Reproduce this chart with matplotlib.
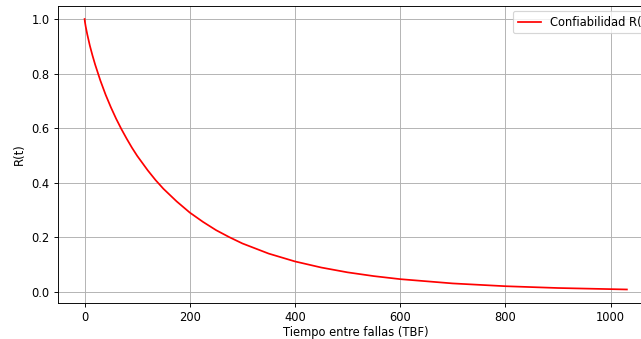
import matplotlib
matplotlib.use("Agg")
import matplotlib.pyplot as plt

# Values
tbf = [0, 0.5, 1, 2, 5, 10, 15, 20, 30, 40, 50, 60, 70, 80, 90, 100, 120, 135,
       150, 175, 200, 225, 250, 275, 300, 350, 400, 450, 500, 550, 600, 700,
       800, 900, 1031]
reliability = [1.0, 0.991, 0.985, 0.973, 0.944, 0.902, 0.866, 0.833, 0.774,
               0.722, 0.676, 0.634, 0.596, 0.561, 0.528, 0.498, 0.445, 0.409,
               0.377, 0.331, 0.290, 0.256, 0.2255, 0.200, 0.1768, 0.1396,
               0.1108, 0.0885, 0.0708, 0.0570, 0.0459, 0.0302, 0.0200, 0.0134,
               0.0080]
x_ticks = [0, 200, 400, 600, 800, 1000]
y_ticks = [0.0, 0.2, 0.4, 0.6, 0.8, 1.0]

DPI = 83
W, H = 641, 339
fig = plt.figure(figsize=(W / DPI, H / DPI), dpi=DPI)
left, right, top, bottom = 57.5, 654, 5.5, 303
ax = fig.add_axes([left / W, (H - bottom) / H, (right - left) / W, (bottom - top) / H])

ax.plot(tbf, reliability, color="red", linewidth=1.5, label="Confiabilidad R(t)")
ax.set_xticks(x_ticks)
ax.set_yticks(y_ticks)
ax.set_xlabel("Tiempo entre fallas (TBF)", labelpad=2)
ax.set_ylabel("R(t)", labelpad=5)
ax.grid(True)
ax.legend(loc="upper left", bbox_to_anchor=(513 / W, 1 - 11 / H),
          bbox_transform=fig.transFigure, borderaxespad=0)

fig.savefig("out.png", dpi=DPI)
